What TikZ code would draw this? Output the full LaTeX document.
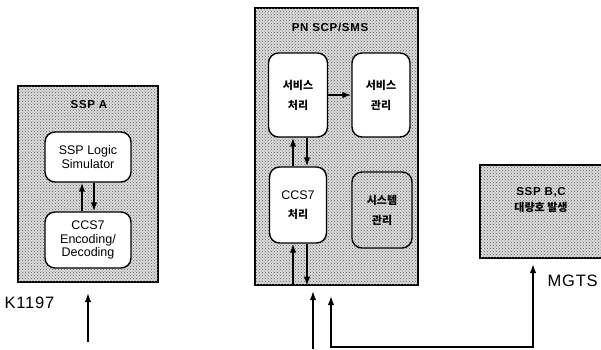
\documentclass[tikz,border=0pt]{standalone}
\usepackage{fontspec}
\setmainfont{Liberation Sans}
\newfontfamily\krfont{Noto Sans CJK KR}
\usetikzlibrary{arrows.meta,positioning,calc,patterns}
\definecolor{dotgray}{HTML}{5A5A5A}
\definecolor{paper}{HTML}{DCDCDC}

\begin{document}
\begin{tikzpicture}[x=1pt,y=-1pt,>={Latex[length=9pt,width=6.5pt]},
 every node/.style={align=center,font=\fontsize{12.5}{13.5}\selectfont},
 block/.style={draw,line width=2.2pt,fill=paper,postaction={pattern=crosshatch dots,pattern color=dotgray},inner sep=0pt},
 unit/.style={draw,line width=1.4pt,rounded corners=10pt,fill=white,inner sep=0pt},
 dotunit/.style={unit,fill=paper,postaction={pattern=crosshatch dots,pattern color=dotgray}},
 kr/.style={font=\krfont\bfseries\fontsize{11}{20}\selectfont},
 heading/.style={font=\bfseries\fontsize{11.5}{13}\selectfont\addfontfeature{LetterSpace=6}},
 ext/.style={font=\fontsize{16.5}{18}\selectfont\addfontfeature{LetterSpace=5}},
 link/.style={->,line width=1.5pt}]
\useasboundingbox (0,0) rectangle (601,349);
\clip (0,0) rectangle (601,349);
% SSP A
\node[block,minimum width=140pt,minimum height=196pt] (sspa) at (88,184) {};
\node[heading] (sspatitle) at (89,105) {SSP A};
\node[unit,minimum width=86pt,minimum height=50pt] (sim) at (88,157) {SSP Logic\\Simulator};
\node[unit,minimum width=86pt,minimum height=56pt] (enc) at (88,240) {CCS7\\Encoding/\\Decoding};
\draw[link] ($(enc.north)+(-6,0)$)--($(sim.south)+(-6,0)$);
\draw[link] ($(sim.south)+(6,0)$)--($(enc.north)+(6,0)$);
\coordinate (k1197in) at (88,342);
\draw[link] (k1197in)--($(sspa.south)+(0,10)$);
\node[ext,anchor=west] (k1197) at (1,303) {K1197};
% PN SCP/SMS
\node[block,minimum width=163pt,minimum height=277pt] (scp) at (336.5,146.5) {};
\node[heading] (scptitle) at (330,27) {PN SCP/SMS};
\node[unit,kr,minimum width=59pt,minimum height=84pt] (svcproc) at (298,95) {서비스\\처리};
\node[unit,kr,minimum width=58pt,minimum height=84pt] (svcmgmt) at (381,95) {서비스\\관리};
\node[unit,minimum width=57pt,minimum height=76pt] (ccsproc) at (298,205) {CCS7\\[5pt]{\krfont\bfseries\fontsize{11}{13}\selectfont 처리}};
\node[dotunit,kr,minimum width=60pt,minimum height=76pt] (sysmgmt) at (382,210) {시스템\\관리};
\draw[link] (svcproc.east)--(svcmgmt.west);
\draw[link] ($(ccsproc.north)+(-5,0)$)--($(svcproc.south)+(-5,0)$);
\draw[link] ($(svcproc.south)+(9,0)$)--($(ccsproc.north)+(9,0)$);
\draw[link] ($(ccsproc.south)+(-5,42)$)--($(ccsproc.south)+(-5,0)$);
\draw[link] ($(ccsproc.south)+(9,0)$)--($(ccsproc.south)+(9,42)$);
\coordinate (scpin) at (313,349);
\draw[link] (scpin)--($(scp.south)+(-23.5,5)$);
% SSP B,C
\node[block,minimum width=130pt,minimum height=93pt] (sspbc) at (545,211.5) {};
\node[heading] (sspbctext) at (541,200) {SSP B,C\\[3pt]{\krfont\bfseries\fontsize{11}{13}\selectfont 대량호 발생}};
\coordinate (mgtsbus) at (533,347);
\draw[<->,line width=1.5pt] ($(scp.south)+(-5.5,10)$) |- (mgtsbus) -- ($(sspbc.south)+(-12,5)$);
\node[ext,anchor=west] (mgts) at (544,281) {MGTS};
\end{tikzpicture}
\end{document}
